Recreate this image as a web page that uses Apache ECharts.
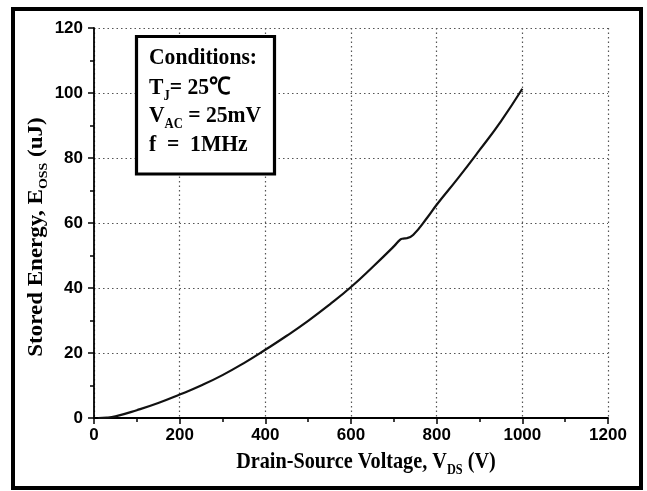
<!DOCTYPE html>
<html>
<head>
<meta charset="utf-8">
<script src="https://cdn.jsdelivr.net/npm/echarts@6/dist/echarts.min.js"></script>
<style>
html,body{margin:0;padding:0;background:#fff;}
#chart{width:647px;height:491px;}
</style>
</head>
<body>
<div id="chart"></div>
<script>
const voltage = [10, 30, 50, 100, 150, 200, 250, 300, 350, 400, 450, 500, 550, 600, 650, 700, 715, 722, 730, 745, 780, 800, 850, 900, 950, 1000];
const energy  = [0, 0.1, 0.5, 2.4, 4.6, 7.2, 10.0, 13.2, 16.9, 21.0, 25.3, 29.9, 34.9, 40.3, 46.4, 52.8, 54.9, 55.2, 55.3, 56.3, 62.0, 65.6, 73.8, 82.4, 91.3, 101.3];
const xTicks = [0, 200, 400, 600, 800, 1000, 1200];
const yTicks = [0, 20, 40, 60, 80, 100, 120];
const xTitle = {main: 'Drain-Source Voltage, V', sub: 'DS', tail: ' (V)'};
const yTitle = {main: 'Stored Energy, E', sub: 'OSS', tail: ' (uJ)'};
const conditions = [
  {main: 'Conditions:', sub: '', tail: ''},
  {main: 'T', sub: 'J', tail: '= 25\u2103'},
  {main: 'V', sub: 'AC', tail: ' = 25mV'},
  {main: 'f  =  1MHz', sub: '', tail: ''}
];

const serif = '"Liberation Serif","Times New Roman",serif';
const sans = '"Liberation Sans",Arial,sans-serif';

function richText(o) {
  let s = '{m|' + o.main + '}';
  if (o.sub) s += '{s|' + o.sub + '}';
  if (o.tail) s += '{m|' + o.tail + '}';
  return s;
}
function richStyles(size, subSize) {
  return {
    m: {fontFamily: serif, fontWeight: 'bold', fontSize: size, lineHeight: 30, fill: '#000', verticalAlign: 'middle'},
    s: {fontFamily: serif, fontWeight: 'bold', fontSize: subSize, lineHeight: 14, fill: '#000', verticalAlign: 'bottom'}
  };
}

const seriesData = voltage.map((v, i) => [v, energy[i]]);
const condY = [58, 88, 116, 145];

const graphic = [
  {type: 'rect', shape: {x: 13, y: 9, width: 628, height: 479}, style: {fill: 'none', stroke: '#000', lineWidth: 4}, z: 100},
  {type: 'rect', shape: {x: 136.5, y: 36.5, width: 138, height: 137.5}, style: {fill: '#fff', stroke: '#000', lineWidth: 3.2}, z: 100},
  {type: 'text', x: 366, y: 462, scaleX: 0.88, z: 100,
   style: {text: richText(xTitle), rich: richStyles(23, 14), textAlign: 'center', textVerticalAlign: 'middle'}},
  {type: 'text', x: 36.5, y: 237, rotation: Math.PI / 2, scaleY: 0.9, z: 100,
   style: {text: richText(yTitle), rich: richStyles(23, 14), textAlign: 'center', textVerticalAlign: 'middle'}}
];
conditions.forEach((c, i) => {
  graphic.push({type: 'text', x: 149, y: condY[i], scaleX: 0.9, z: 101,
    style: {text: richText(c), rich: richStyles(24, 14), textAlign: 'left', textVerticalAlign: 'middle'}});
});

const plainLabel = v => String(v);

const chart = echarts.init(document.getElementById('chart'));
chart.setOption({
  animation: false,
  backgroundColor: '#fff',
  grid: {left: 94, right: 39, top: 28, bottom: 73, containLabel: false},
  xAxis: {
    type: 'value', min: xTicks[0], max: xTicks[xTicks.length - 1], interval: 200,
    axisLine: {show: true, onZero: false, lineStyle: {color: '#000', width: 1.8}},
    axisTick: {show: true, inside: false, length: 6, lineStyle: {color: '#000', width: 1.5}},
    minorTick: {show: true, splitNumber: 2, length: 4, lineStyle: {color: '#000', width: 1.5}},
    axisLabel: {margin: 9, color: '#000', fontFamily: sans, fontWeight: 'bold', fontSize: 17, formatter: plainLabel},
    splitLine: {show: true, lineStyle: {color: '#555', width: 1.2, type: [1.5, 3]}}
  },
  yAxis: {
    type: 'value', min: yTicks[0], max: yTicks[yTicks.length - 1], interval: 20,
    axisLine: {show: true, onZero: false, lineStyle: {color: '#000', width: 1.8}},
    axisTick: {show: true, inside: false, length: 6, lineStyle: {color: '#000', width: 1.5}},
    minorTick: {show: true, splitNumber: 2, length: 4, lineStyle: {color: '#000', width: 1.5}},
    axisLabel: {margin: 11, color: '#000', fontFamily: sans, fontWeight: 'bold', fontSize: 17, formatter: plainLabel},
    splitLine: {show: true, lineStyle: {color: '#555', width: 1.2, type: [1.5, 3]}}
  },
  series: [{
    type: 'line', data: seriesData, showSymbol: false, smooth: 0.5,
    lineStyle: {color: '#111', width: 2.2}, z: 5
  }],
  graphic: graphic
});
</script>
</body>
</html>
